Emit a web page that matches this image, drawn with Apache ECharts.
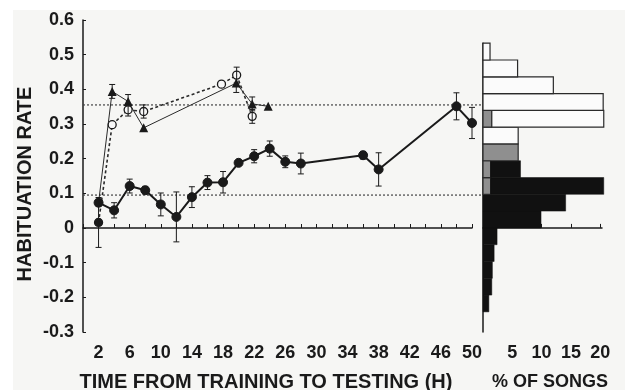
<!DOCTYPE html>
<html><head><meta charset="utf-8">
<script src="https://cdn.jsdelivr.net/npm/echarts@6/dist/echarts.min.js"></script>
<style>html,body{margin:0;padding:0;background:#fff}#c{width:625px;height:390px}</style>
</head><body><div id="c"></div>
<script>
// ---- data ----
const hoursFilled = [2,4,6,8,10,12,14,16,18,20,22,24,26,28,36,38,48,50];
const rateFilled  = [0.073,0.051,0.121,0.109,0.068,0.032,0.089,0.131,0.132,0.188,0.207,0.229,0.191,0.186,0.210,0.169,0.351,0.303];
const errFilled   = [0.010,0.022,0.020,0.011,0.033,0.072,0.030,0.020,0.031,0.006,0.019,0.022,0.017,0.030,0.011,0.048,0.039,0.045];

const hoursTri = [2,3.75,5.8,7.8,19.7,21.75,23.8];
const rateTri  = [0.073,0.394,0.365,0.289,0.418,0.358,0.351];
const errTri   = [0,0.020,0.020,0,0.027,0.020,0];

const hoursOpen = [2,3.75,5.8,7.8,17.8,19.75,21.75];
const rateOpen  = [0.016,0.298,0.341,0.336,0.415,0.441,0.322];
const errOpen   = [0.072,0,0.018,0.019,0,0.023,0.020];

const thresholds = [0.355, 0.095];

const binStart  = [-0.25,-0.2,-0.15,-0.1,-0.05,0,0.05,0.1,0.15,0.2,0.25,0.3,0.35,0.4,0.45,0.5];
const binWidth  = 0.05;
const grayPct   = [0,0,0,0,0,0,0,1.3,1.3,6.0,0,1.5,0,0,0,0];
const blackPct  = [1.0,1.5,1.6,1.9,2.4,9.9,14.1,19.3,5.1,0,0,0,0,0,0,0];
const whitePct  = [0,0,0,0,0,0,0,0,0,0,6.0,19.1,20.5,12.0,5.9,1.2];

const xTickLabels = [2,6,10,14,18,22,26,30,34,38,42,46,50];
const histTickLabels = [5,10,15,20];

// ---- chart ----
const FONT = '"Liberation Sans", Arial, sans-serif';
const INK = '#1a1a1a';
const chart = echarts.init(document.getElementById('c'), null, {renderer:'canvas'});

function pairs(xs, ys){ return xs.map((x,i)=>[x, ys[i]]); }
function errData(xs, ys, es){ return xs.map((x,i)=>[x, ys[i], es[i]]).filter(d=>d[2]>0); }
function errRender(params, api){
  const x = api.value(0), y = api.value(1), e = api.value(2);
  const top = api.coord([x, y+e]), bot = api.coord([x, y-e]);
  const w = 3;
  const st = {stroke: INK, lineWidth: 1};
  return {type:'group', children:[
    {type:'line', shape:{x1:top[0],y1:top[1],x2:bot[0],y2:bot[1]}, style:st},
    {type:'line', shape:{x1:top[0]-w,y1:top[1],x2:top[0]+w,y2:top[1]}, style:st},
    {type:'line', shape:{x1:bot[0]-w,y1:bot[1],x2:bot[0]+w,y2:bot[1]}, style:st}
  ]};
}
// histogram segments
const histSegs = [];
binStart.forEach((b,i)=>{
  let acc = 0;
  if (grayPct[i]>0){ histSegs.push([b, acc, acc+grayPct[i], 0]); acc += grayPct[i]; }
  if (blackPct[i]>0){ histSegs.push([b, acc, acc+blackPct[i], 1]); acc += blackPct[i]; }
  if (whitePct[i]>0){ histSegs.push([b, acc, acc+whitePct[i], 2]); acc += whitePct[i]; }
});
function histRender(params, api){
  const b = api.value(0), x0 = api.value(1), x1 = api.value(2), kind = api.value(3);
  const p0 = api.coord([x0, b+binWidth]);
  const p1 = api.coord([x1, b]);
  const fills = ['#8f8f8f', '#111111', '#fbfbfb'];
  return {type:'rect', shape:{x:p0[0], y:p0[1], width:p1[0]-p0[0], height:p1[1]-p0[1]},
    style:{fill: fills[kind], stroke: kind===1 ? '#111111' : '#2a2a2a', lineWidth: kind===1 ? 0.5 : 1.2}};
}

const labelStyle = {fontFamily: FONT, fontWeight:'bold', fontSize:18, color: INK};

chart.setOption({
  animation:false,
  backgroundColor:'#ffffff',
  graphic:[
    {type:'rect', left:13, top:10, shape:{width:612, height:380}, style:{fill:'#f6f6f4'}, z:-10, silent:true},
    {type:'text', x:25, y:184, rotation:Math.PI/2, style:{text:'HABITUATION RATE', font:'bold 20px '+FONT, fill:INK, align:'center', verticalAlign:'middle'}},
    {type:'text', x:266, y:382, style:{text:'TIME FROM TRAINING TO TESTING (H)', font:'bold 20px '+FONT, fill:INK, align:'center', verticalAlign:'middle'}},
    {type:'text', x:550, y:382, style:{text:'% OF SONGS', font:'bold 18px '+FONT, fill:INK, align:'center', verticalAlign:'middle'}}
  ],
  grid:[
    {left:83, top:20, width:389, height:312, containLabel:false},
    {left:483, top:43.2, width:119, height:288.8, containLabel:false},
    {left:83, top:20, width:398, height:312, containLabel:false}
  ],
  xAxis:[
    {gridIndex:0, type:'value', min:0, max:50, interval:2,
     axisLine:{show:true, lineStyle:{color:INK, width:1.5}},
     axisTick:{show:true, inside:true, length:4, lineStyle:{color:INK}},
     splitLine:{show:false},
     axisLabel:Object.assign({margin:12, formatter:v=> xTickLabels.indexOf(v)>=0 ? String(v) : ''}, labelStyle)},
    {gridIndex:1, type:'value', min:0, max:20.3, interval:5,
     axisLine:{show:true, lineStyle:{color:INK, width:1.5}},
     axisTick:{show:true, inside:true, length:4, lineStyle:{color:INK}},
     splitLine:{show:false},
     axisLabel:Object.assign({margin:12, showMaxLabel:false, formatter:v=> histTickLabels.indexOf(v)>=0 ? String(v) : ''}, labelStyle)},
    {gridIndex:2, type:'value', min:0, max:1, show:false}
  ],
  yAxis:[
    {gridIndex:0, type:'value', min:-0.3, max:0.6, interval:0.1,
     axisLine:{show:true, lineStyle:{color:INK, width:1.5}},
     axisTick:{show:true, inside:true, length:3, lineStyle:{color:INK}},
     splitLine:{show:false},
     axisLabel:Object.assign({margin:9}, labelStyle)},
    {gridIndex:1, type:'value', min:-0.31, max:0.55,
     axisLine:{show:true, lineStyle:{color:INK, width:1.5}},
     axisTick:{show:false}, axisLabel:{show:false}, splitLine:{show:false}},
    {gridIndex:2, type:'value', min:-0.3, max:0.6, show:false}
  ],
  series:[
    // threshold dotted lines
    ...thresholds.map(t=>({type:'line', xAxisIndex:2, yAxisIndex:2, data:[[0,t],[1,t]], symbol:'none',
      lineStyle:{color:'#444', width:1.2, type:[2,2]}, z:1, silent:true})),
    // histogram
    {type:'custom', xAxisIndex:1, yAxisIndex:1, data:histSegs, renderItem:histRender, z:2,
     encode:{x:[1,2], y:0}},
    // error bars
    {type:'custom', xAxisIndex:0, yAxisIndex:0, data:errData(hoursFilled, rateFilled, errFilled), renderItem:errRender, z:3, encode:{x:0,y:[1,2]}},
    {type:'custom', xAxisIndex:0, yAxisIndex:0, data:errData(hoursTri, rateTri, errTri), renderItem:errRender, z:3, encode:{x:0,y:[1,2]}},
    {type:'custom', xAxisIndex:0, yAxisIndex:0, data:errData(hoursOpen, rateOpen, errOpen), renderItem:errRender, z:6, encode:{x:0,y:[1,2]}},
    // triangles
    {type:'line', name:'tri', xAxisIndex:0, yAxisIndex:0, z:4,
     data: pairs(hoursTri, rateTri).map((p,i)=> i===0 ? {value:p, symbol:'none'} : {value:p}),
     symbol:'triangle', symbolSize:9, itemStyle:{color:INK},
     lineStyle:{color:'#2a2a2a', width:1}},
    // open circles (dashed)
    {type:'line', name:'open', xAxisIndex:0, yAxisIndex:0, z:5,
     data: pairs(hoursOpen, rateOpen).map((p,i)=> i===0 ? {value:p, itemStyle:{color:INK, borderColor:INK}} : {value:p}),
     symbol:'circle', symbolSize:8, showAllSymbol:true,
     itemStyle:{color:'#f8f8f8', borderColor:INK, borderWidth:1.3},
     lineStyle:{color:'#2a2a2a', width:1.6, type:[3,2.5]}},
    // filled circles
    {type:'line', name:'filled', xAxisIndex:0, yAxisIndex:0, z:5,
     data: pairs(hoursFilled, rateFilled),
     symbol:'circle', symbolSize:9, showAllSymbol:true,
     itemStyle:{color:INK, borderColor:INK},
     lineStyle:{color:INK, width:2}}
  ]
});
</script></body></html>
